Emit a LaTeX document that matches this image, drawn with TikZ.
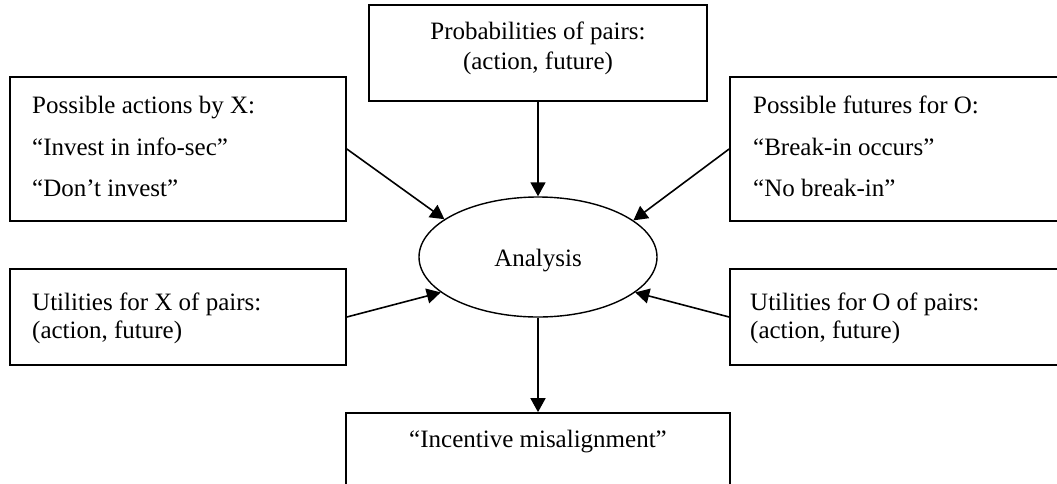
\documentclass[tikz,border=0pt]{standalone}
\usepackage{fontspec}
\setmainfont{Liberation Serif}
\usetikzlibrary{shapes.geometric,arrows.meta}
\begin{document}
\begin{tikzpicture}[x=1pt,y=-1pt,
  box/.style={draw, line width=1.7pt, rectangle, inner sep=0pt},
  txt/.style={anchor=base west, inner sep=0pt, font=\fontsize{25}{30}\selectfont},
  ctxt/.style={anchor=base, inner sep=0pt, font=\fontsize{25}{30}\selectfont},
  arr/.style={line width=1.6pt, -{Triangle[length=14pt,width=15pt]}}]
\clip (0,0) rectangle (1057,483);
\fill[white] (0,0) rectangle (1057,483);
% boxes
\node[box, minimum width=338pt, minimum height=96pt] (top) at (538,53) {};
\node[box, minimum width=336pt, minimum height=144pt] (tl) at (178,149) {};
\node[box, minimum width=350pt, minimum height=144pt] (tr) at (905,149) {};
\node[box, minimum width=336pt, minimum height=96pt] (bl) at (178,317) {};
\node[box, minimum width=350pt, minimum height=96pt] (br) at (905,317) {};
\node[box, minimum width=384pt, minimum height=97pt] (bot) at (538,461.5) {};
\node[draw, line width=1.4pt, ellipse, minimum width=238pt, minimum height=120pt, inner sep=0pt] (an) at (538,257) {};
% texts
\node[ctxt] (t1) at (538,39) {Probabilities of pairs:};
\node[ctxt] (t2) at (538,69) {(action, future)};
\node[txt] (a1) at (32,113) {Possible actions by X:};
\node[txt] (a2) at (32,155) {“Invest in info-sec”};
\node[txt] (a3) at (32,196) {“Don’t invest”};
\node[txt] (f1) at (753,113) {Possible futures for O:};
\node[txt] (f2) at (753,155) {“Break-in occurs”};
\node[txt] (f3) at (753,196) {“No break-in”};
\node[txt] (u1) at (32,310) {Utilities for X of pairs:};
\node[txt] (u2) at (32,338) {(action, future)};
\node[txt] (o1) at (750,310) {Utilities for O of pairs:};
\node[txt] (o2) at (750,338) {(action, future)};
\node[ctxt] (an-t) at (538,266) {Analysis};
\node[ctxt] (m1) at (538,447) {“Incentive misalignment”};
% connectors
\draw[arr] (top.south) -- (an.north);
\draw[arr] (tl.east) -- (an.158.9);
\draw[arr] (tr.west) -- (an.21.4);
\draw[arr] (bl.east) -- (an.200.2);
\draw[arr] (br.west) -- (an.340);
\draw[arr] (an.south) -- (bot.north);
\end{tikzpicture}
\end{document}
